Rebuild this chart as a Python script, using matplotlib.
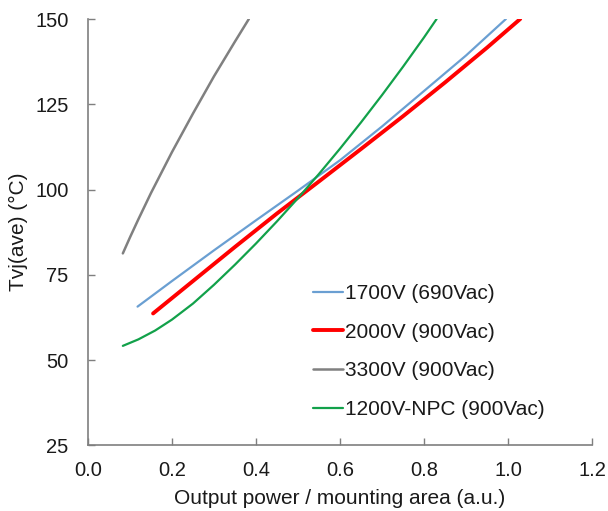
import matplotlib
matplotlib.use("Agg")
import matplotlib.pyplot as plt

plt.rcParams['font.family'] = ['Liberation Sans', 'DejaVu Sans']

# 1700V (690Vac)
x_1700 = [0.118, 0.20, 0.30, 0.40, 0.50, 0.60, 0.70, 0.80, 0.90, 0.995]
y_1700 = [65.7, 73.2, 82.2, 91.0, 99.7, 108.6, 118.5, 128.9, 139.3, 150.0]

# 2000V (900Vac)
x_2000 = [0.155, 0.25, 0.35, 0.45, 0.55, 0.65, 0.75, 0.85, 0.95, 1.029]
y_2000 = [63.7, 73.2, 83.2, 93.0, 102.4, 111.9, 121.5, 131.4, 141.6, 150.0]

# 3300V (900Vac)
x_3300 = [0.083, 0.10, 0.12, 0.15, 0.20, 0.25, 0.30, 0.35, 0.383]
y_3300 = [81.3, 86.0, 91.3, 99.0, 111.0, 122.3, 133.2, 143.4, 150.0]

# 1200V-NPC (900Vac)
x_npc = [0.083, 0.12, 0.16, 0.20, 0.25, 0.30, 0.35, 0.40, 0.45, 0.50,
         0.55, 0.60, 0.65, 0.70, 0.75, 0.80, 0.830]
y_npc = [54.2, 56.1, 58.7, 61.9, 66.6, 72.1, 78.0, 84.2, 90.7, 97.5,
         104.6, 112.0, 119.7, 127.7, 136.0, 144.6, 150.0]

labels = ["1700V (690Vac)", "2000V (900Vac)", "3300V (900Vac)", "1200V-NPC (900Vac)"]
x_ticks = [0.0, 0.2, 0.4, 0.6, 0.8, 1.0, 1.2]
y_ticks = [25, 50, 75, 100, 125, 150]

fig = plt.figure(figsize=(6.08, 5.11), dpi=100)
ax = fig.add_axes([0.1447, 0.1282, 0.829, 0.8346])

ax.plot(x_1700, y_1700, color='#6a9fd2', lw=1.6, label=labels[0], solid_capstyle='round')
ax.plot(x_2000, y_2000, color='#ff0000', lw=2.8, label=labels[1], solid_capstyle='round')
ax.plot(x_3300, y_3300, color='#808080', lw=1.8, label=labels[2], solid_capstyle='round')
ax.plot(x_npc, y_npc, color='#12a14a', lw=1.6, label=labels[3], solid_capstyle='round')

ax.set_xlim(0, 1.2)
ax.set_ylim(25, 150)
ax.set_xticks(x_ticks)
ax.set_xticklabels([f"{v:.1f}" for v in x_ticks])
ax.set_yticks(y_ticks)
ax.set_yticklabels([str(v) for v in y_ticks])

for s in ['top', 'right']:
    ax.spines[s].set_visible(False)
for s in ['left', 'bottom']:
    ax.spines[s].set_color('#7f7f7f')
    ax.spines[s].set_linewidth(1.2)

ax.tick_params(direction='in', length=5, width=1.0, color='#7f7f7f',
               labelsize=14.5, labelcolor='#1a1a1a')
ax.tick_params(axis='x', pad=11.5)
ax.tick_params(axis='y', pad=14)

ax.set_xlabel("Output power / mounting area (a.u.)", fontsize=15, color='#1a1a1a', labelpad=6)
ax.set_ylabel("Tvj(ave) (°C)", fontsize=15, color='#1a1a1a', labelpad=5)

leg = ax.legend(loc='upper left', bbox_to_anchor=(0.446, 0.379), frameon=False,
                fontsize=15, handlelength=1.45, handletextpad=0.1,
                labelspacing=0.95, borderpad=0, borderaxespad=0)
for t in leg.get_texts():
    t.set_color('#1a1a1a')

fig.savefig("out.png", dpi=100)
